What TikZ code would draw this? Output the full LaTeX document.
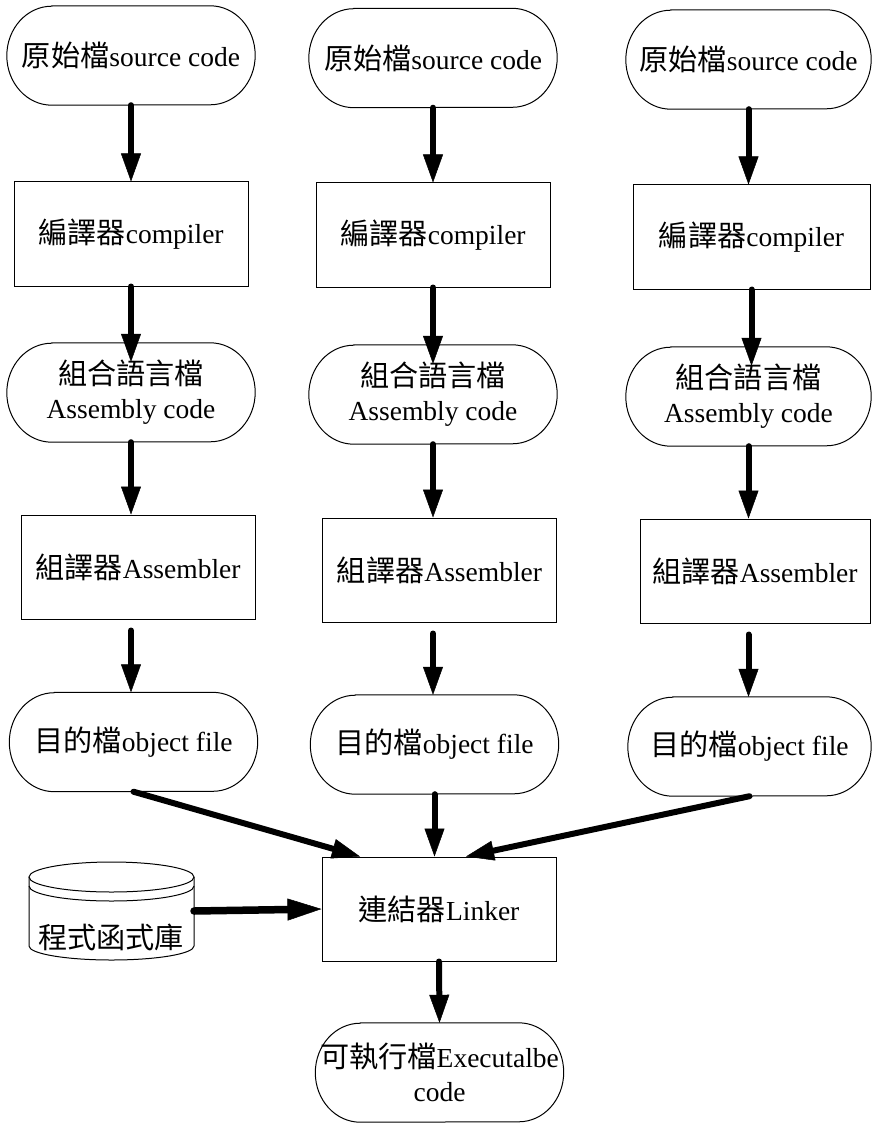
\documentclass[tikz,border=0pt]{standalone}
\usepackage{fontspec}
\setmainfont{Liberation Serif}
\newfontfamily\cjk[Scale=1.06]{Noto Sans CJK TC}
\usetikzlibrary{arrows.meta}

\begin{document}
\begin{tikzpicture}[x=1pt,y=-1pt,
  every node/.style={font=\fontsize{27.5}{34}\selectfont, inner sep=0pt, align=center},
  stadium/.style={minimum width=248pt, minimum height=99pt},
  procbox/.style={draw, line width=1pt, minimum width=234pt, minimum height=104pt},
  outline/.style={line width=1pt},
  flow/.style={line width=6pt, line cap=round,
    -{Triangle[length=28pt,width=20pt,line width=0.5pt]}},
  libflow/.style={line width=7.5pt, line cap=round,
    -{Triangle[length=34pt,width=22pt,line width=0.5pt]}},
]
\fill[white] (0,0) rectangle (872,1123);

% first column
\node[stadium] (s11) at (131,55.5)  {{\cjk 原始檔}source code};
\node[procbox] (b11) at (131,234)   {{\cjk 編譯器}compiler};
\node[stadium] (s12) at (131,392.5) {{\cjk 組合語言檔}\\Assembly code};
\node[procbox] (b12) at (138,567)   {{\cjk 組譯器}Assembler};
\node[stadium] (s13) at (133.5,742) {{\cjk 目的檔}object file};

% second column
\node[stadium] (s21) at (433,58)    {{\cjk 原始檔}source code};
\node[procbox] (b21) at (433,235)   {{\cjk 編譯器}compiler};
\node[stadium] (s22) at (433,394.5) {{\cjk 組合語言檔}\\Assembly code};
\node[procbox] (b22) at (439.5,570) {{\cjk 組譯器}Assembler};
\node[stadium] (s23) at (434.5,744.5) {{\cjk 目的檔}object file};

% third column
\node[stadium, minimum width=245pt] (s31) at (748.5,59.5)  {{\cjk 原始檔}source code};
\node[procbox, minimum width=237pt] (b31) at (751.5,237)   {{\cjk 編譯器}compiler};
\node[stadium, minimum width=245pt] (s32) at (748.5,396.5) {{\cjk 組合語言檔}\\Assembly code};
\node[procbox, minimum width=230pt] (b32) at (755,571)     {{\cjk 組譯器}Assembler};
\node[stadium, minimum width=243pt] (s33) at (749.5,746.5) {{\cjk 目的檔}object file};

% linker, library and result
\node[procbox] (lk) at (439,909) {{\cjk 連結器}Linker};
\node[stadium] (ex) at (439.5,1072.5) {{\cjk 可執行檔}Executalbe\\code};

% library cylinder
\draw[outline] (29,877) -- (29,946)
  arc[start angle=180, end angle=360, x radius=82.5pt, y radius=14pt] -- (194,877);
\draw[outline] (111.5,877) ellipse [x radius=82.5pt, y radius=15pt];
\draw[outline] (29,886) arc[start angle=180, end angle=360, x radius=82.5pt, y radius=15pt];
\node (db) at (111,937) {{\cjk 程式函式庫}};
\coordinate (dbport) at (194,911);

% terminal outlines with elliptic ends
\foreach \n in {s11,s12,s13,s21,s22,s23,s31,s32,s33,ex}{
  \draw[outline] ([xshift=45pt]\n.north west) -- ([xshift=-45pt]\n.north east)
    arc[start angle=90, end angle=-90, x radius=45pt, y radius=49.5pt]
    -- ([xshift=45pt]\n.south west)
    arc[start angle=270, end angle=90, x radius=45pt, y radius=49.5pt] -- cycle;
}

% flow arrows in each column
\foreach \c in {1,2,3}{
  \draw[flow] (s\c1.south) -- (s\c1.south |- b\c1.north);
  \draw[flow] (b\c1.south) -- ([yshift=-19pt]b\c1.south |- s\c2.north);
  \draw[flow] (s\c2.south) -- (s\c2.south |- b\c2.north);
  \draw[flow] ([yshift=-11pt]s\c2.south |- b\c2.south) -- (s\c2.south |- s\c3.north);
}

% into the linker
\draw[flow] (s13.south) -- ([xshift=-79pt]lk.north);
\draw[flow] (s23.south) -- (s23.south |- lk.north);
\draw[flow] (s33.south) -- ([xshift=27pt]lk.north);
\draw[libflow] (dbport) -- (lk.west);
\draw[flow] (lk.south) -- (ex.north);
\end{tikzpicture}
\end{document}
